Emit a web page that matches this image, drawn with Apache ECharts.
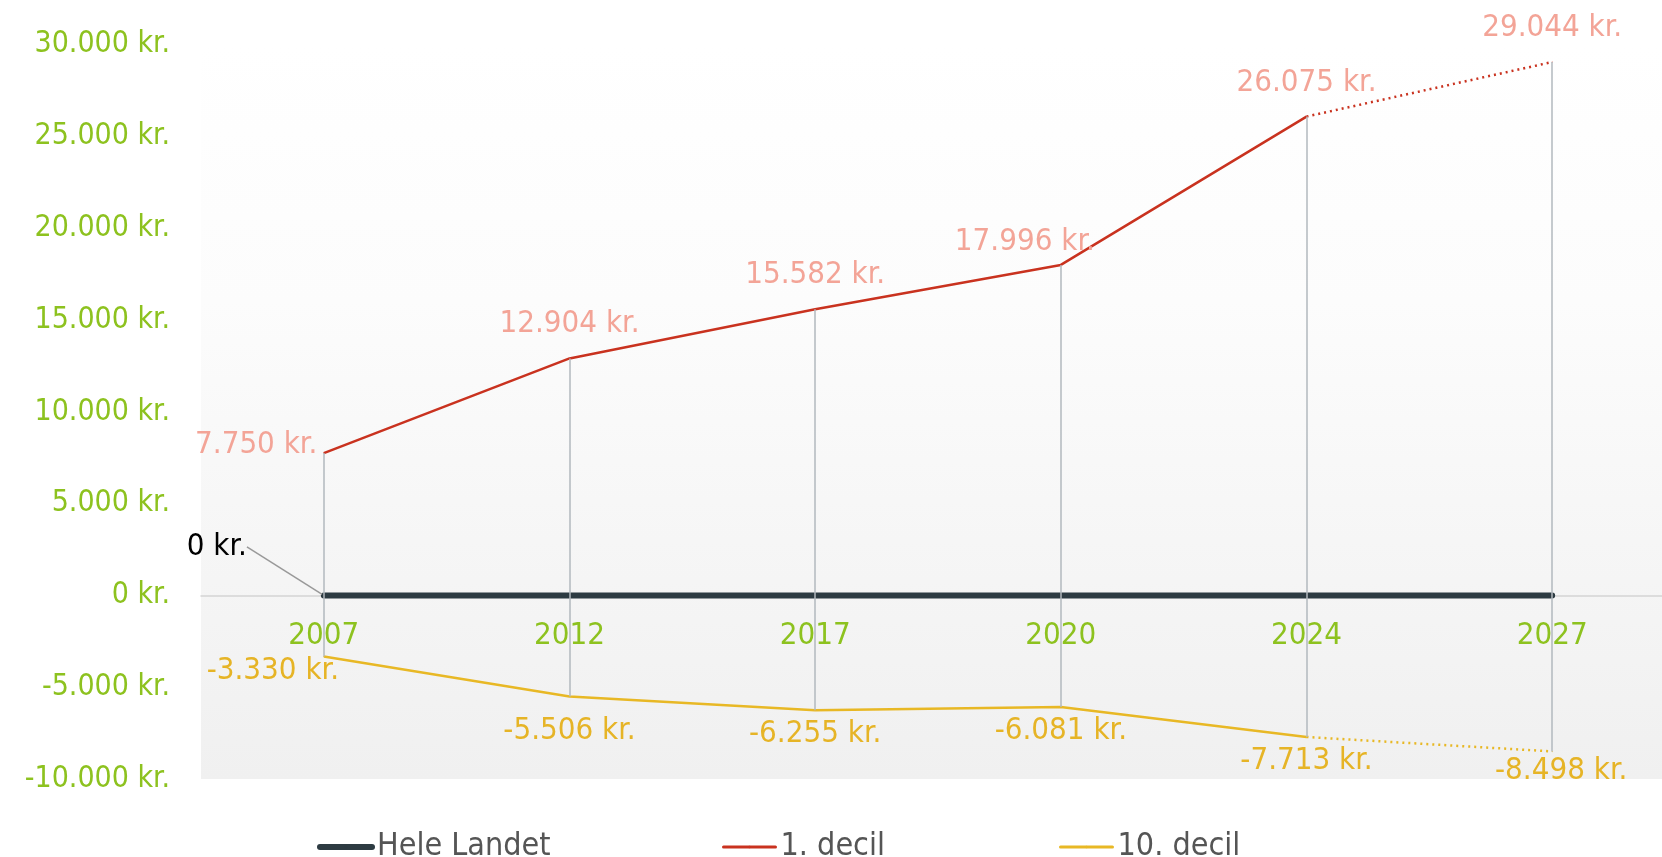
<!DOCTYPE html>
<html>
<head>
<meta charset="utf-8">
<script src="https://cdn.jsdelivr.net/npm/echarts@6/dist/echarts.min.js"></script>
<style>
  html, body { margin: 0; padding: 0; background: #fff; }
  #main { width: 1662px; height: 857px; }
</style>
</head>
<body>
<div id="main"></div>
<script>
// data
var years = ['2007', '2012', '2017', '2020', '2024', '2027'];
var heleLandet = [0, 0, 0, 0, 0, 0];
var decil1 = [7750, 12904, 15582, 17996, 26075, 29044];
var decil10 = [-3330, -5506, -6255, -6081, -7713, -8498];
var projectedFrom = 4; // line is dotted from 2024 onwards
var yMin = -10000, yMax = 30000, yStep = 5000;

var FONT = '"DejaVu Sans Condensed", "DejaVu Sans", sans-serif';
var GREEN = '#8dc21f';
var RED = '#c9321f', RED_LABEL = '#f3a497';
var GOLD = '#e8b825', GOLD_LABEL = '#e6b426';
var DARK = '#2d3b42';

// grid geometry (px)
var gridTop = 44.5, gridBottom = 78, H = 857;

function kr(v) {
  var s = Math.abs(v).toString().replace(/\B(?=(\d{3})+(?!\d))/g, '.');
  return (v < 0 ? '-' : '') + s + ' kr.';
}
function lbl(p) { return kr(p.value); }

var chart = echarts.init(document.getElementById('main'));

// red: solid part + dotted projection
var redSolid = decil1.map(function (v, i) {
  if (i > projectedFrom) return '-';
  var item = { value: v };
  if (i === 0) item.label = { position: 'left', distance: 6, offset: [0, -8] };
  if (i === 3) item.label = { offset: [-36, 11] };
  return item;
});
var redDotted = decil1.map(function (v, i) {
  if (i < projectedFrom) return '-';
  return { value: v, label: { show: i > projectedFrom } };
});
var goldSolid = decil10.map(function (v, i) {
  if (i > projectedFrom) return '-';
  var item = { value: v };
  if (i === 0) item.label = { offset: [-51, -10] };
  if (i === 1) item.label = { offset: [0, 10] };
  return item;
});
var goldDotted = decil10.map(function (v, i) {
  if (i < projectedFrom) return '-';
  return { value: v, label: { show: i > projectedFrom, offset: [9, -4] } };
});
var hele = heleLandet.map(function (v, i) {
  var item = { value: v };
  if (i === 0) item.label = { show: true };
  return item;
});
var drops = years.map(function (y, i) {
  return [{ coord: [y, decil1[i]] }, { coord: [y, decil10[i]] }];
});

// x axis sits on the zero line
var plotH = H - gridTop - gridBottom;
var zeroFromBottom = plotH * (0 - yMin) / (yMax - yMin);

var redLabel = { show: true, position: 'top', distance: 18, color: RED_LABEL, fontSize: 31, fontFamily: FONT, formatter: lbl };
var goldLabel = { show: true, position: 'bottom', distance: 8, color: GOLD_LABEL, fontSize: 31, fontFamily: FONT, formatter: lbl };

function legendAt(left, name, width) {
  return {
    left: left, top: 826, data: [name],
    itemWidth: 52, itemHeight: 3, itemGap: 0,
    lineStyle: { width: width, cap: 'round' },
    textStyle: { color: '#555', fontSize: 32, fontFamily: FONT }
  };
}

chart.setOption({
  animation: false,
  grid: {
    left: 201, right: -13, top: gridTop, bottom: gridBottom,
    outerBoundsMode: 'none',
    show: true, borderWidth: 0,
    backgroundColor: new echarts.graphic.LinearGradient(0, 0, 0, 1, [
      { offset: 0, color: '#ffffff' },
      { offset: 0.35, color: '#fcfcfc' },
      { offset: 1, color: '#f0f0f0' }
    ])
  },
  legend: [
    legendAt(312, 'Hele Landet', 6),
    legendAt(717, '1. decil', 3),
    legendAt(1054, '10. decil', 3)
  ],
  xAxis: {
    type: 'category',
    data: years,
    position: 'bottom',
    offset: -zeroFromBottom,
    axisLine: { onZero: false, lineStyle: { color: '#d4d4d4', width: 1.5 } },
    axisTick: { show: false },
    axisLabel: { color: GREEN, fontSize: 31, fontFamily: FONT, margin: 25 },
    splitLine: { show: false }
  },
  yAxis: {
    type: 'value',
    min: yMin, max: yMax, interval: yStep,
    axisLine: { show: false },
    axisTick: { show: false },
    splitLine: { show: false },
    axisLabel: { color: GREEN, fontSize: 30, fontFamily: FONT, margin: 31, formatter: kr }
  },
  series: [
    {
      name: 'drops', type: 'line', data: [], z: 1, silent: true,
      markLine: {
        silent: true, symbol: 'none', animation: false,
        label: { show: false },
        lineStyle: { color: '#b2b8be', width: 1.5, type: 'solid' },
        data: drops
      }
    },
    {
      name: '1. decil', type: 'line', data: redSolid, z: 3,
      symbol: 'circle', symbolSize: 1, color: RED,
      lineStyle: { color: RED, width: 2.5 },
      label: redLabel
    },
    {
      name: '1. decil', type: 'line', data: redDotted, z: 3,
      symbol: 'circle', symbolSize: 1, color: RED,
      lineStyle: { color: RED, width: 2.5, type: [2, 4] },
      label: redLabel
    },
    {
      name: '10. decil', type: 'line', data: goldSolid, z: 3,
      symbol: 'circle', symbolSize: 1, color: GOLD,
      lineStyle: { color: GOLD, width: 2.5 },
      label: goldLabel
    },
    {
      name: '10. decil', type: 'line', data: goldDotted, z: 3,
      symbol: 'circle', symbolSize: 1, color: GOLD,
      lineStyle: { color: GOLD, width: 2.5, type: [2, 4] },
      label: goldLabel
    },
    {
      name: 'Hele Landet', type: 'line', data: hele, z: 4,
      symbol: 'circle', symbolSize: 4, color: DARK,
      lineStyle: { color: DARK, width: 6, cap: 'round' },
      label: { show: false, position: 'top', color: '#000', fontSize: 31, fontFamily: FONT, formatter: lbl },
      labelLayout: { dx: -107, dy: -26 },
      labelLine: { show: true, lineStyle: { color: '#999', width: 1.5 } }
    }
  ]
});
</script>
</body>
</html>
